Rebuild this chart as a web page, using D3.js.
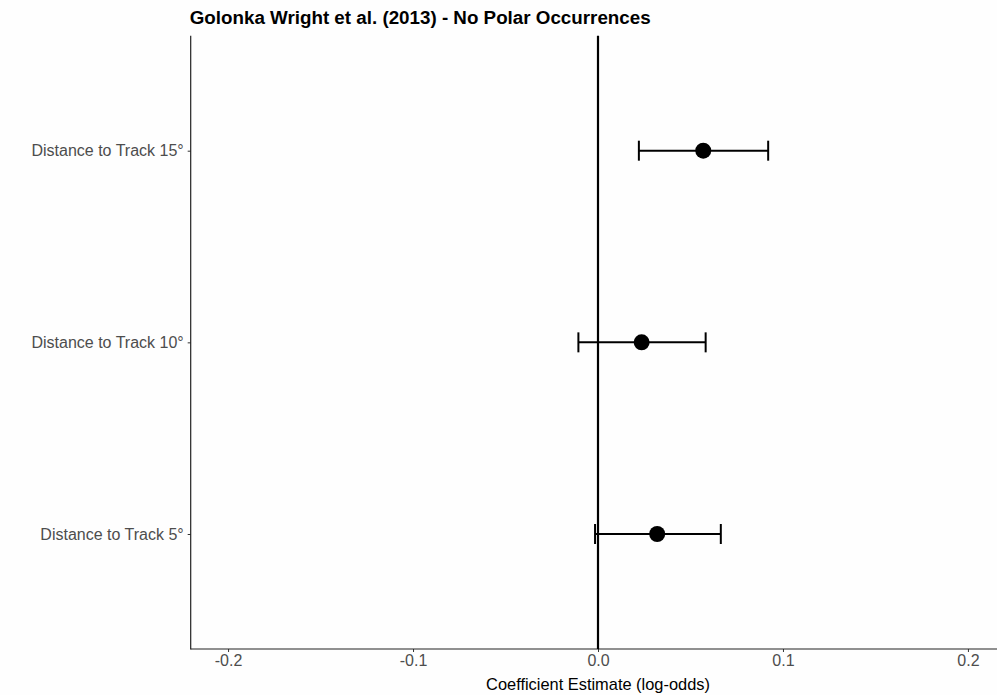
<!DOCTYPE html>
<html>
<head>
<meta charset="utf-8">
<script src="https://cdn.jsdelivr.net/npm/d3@7"></script>
<style>
  html, body { margin: 0; padding: 0; background: #fefefe; }
  svg { display: block; }
  text { font-family: "Liberation Sans", Arial, Helvetica, sans-serif; }
</style>
</head>
<body>
<svg id="chart" width="997" height="695"></svg>
<script>
// Model terms, point estimates and 95% confidence bounds (log-odds)
const terms = ["Distance to Track 15°", "Distance to Track 10°", "Distance to Track 5°"];
const estimates = [0.0569, 0.0236, 0.0320];
const lower = [0.0221, -0.0106, -0.0016];
const upper = [0.0920, 0.0582, 0.0664];
const xTicks = [-0.2, -0.1, 0.0, 0.1, 0.2];
const titleText = "Golonka Wright et al. (2013) - No Polar Occurrences";
const xTitle = "Coefficient Estimate (log-odds)";

const svg = d3.select("#chart");
const plot = { left: 190.7, right: 1005.3, top: 35.7, bottom: 649 };

const x = d3.scaleLinear().domain([-0.2202, 0.2202]).range([plot.left, plot.right]);

// discrete axis with 0.6 unit expansion on each end
const y = d3.scalePoint().domain(terms).range([plot.top, plot.bottom]).padding(0.6);

const rows = terms.map((t, i) => ({ term: t, est: estimates[i], lo: lower[i], hi: upper[i] }));

// tick labels with a plain hyphen for negatives
const fmt = v => d3.format(".1f")(v).replace("\u2212", "-");

// x axis
const xAxis = svg.append("g")
  .attr("transform", `translate(0,${plot.bottom})`)
  .call(d3.axisBottom(x).tickValues(xTicks).tickFormat(fmt).tickSize(3).tickPadding(3));
xAxis.select(".domain").remove();
xAxis.selectAll(".tick line").attr("stroke", "#333").attr("stroke-width", 1);
xAxis.selectAll(".tick text").attr("fill", "#4d4d4d").style("font-size", "16px");

// y axis
const yAxis = svg.append("g")
  .attr("transform", `translate(${plot.left},0)`)
  .call(d3.axisLeft(y).tickSize(3).tickPadding(4));
yAxis.select(".domain").remove();
yAxis.selectAll(".tick line").attr("stroke", "#333").attr("stroke-width", 1);
yAxis.selectAll(".tick text").attr("fill", "#4d4d4d").style("font-size", "16px");

// axis lines (left and bottom only)
svg.append("line")
  .attr("x1", plot.left).attr("x2", plot.left)
  .attr("y1", plot.top).attr("y2", plot.bottom + 0.5)
  .attr("stroke", "#222").attr("stroke-width", 1.2);
svg.append("line")
  .attr("x1", plot.left).attr("x2", plot.right)
  .attr("y1", plot.bottom).attr("y2", plot.bottom)
  .attr("stroke", "#222").attr("stroke-width", 1.2);

// reference line at zero
svg.append("line")
  .attr("x1", x(0)).attr("x2", x(0))
  .attr("y1", plot.top).attr("y2", plot.bottom)
  .attr("stroke", "#000").attr("stroke-width", 2.2);

// confidence intervals and point estimates
const cap = 10;
const g = svg.append("g");
rows.forEach(r => {
  const cy = y(r.term);
  g.append("line")
    .attr("x1", x(r.lo)).attr("x2", x(r.hi)).attr("y1", cy).attr("y2", cy)
    .attr("stroke", "#000").attr("stroke-width", 2);
  [r.lo, r.hi].forEach(v => {
    g.append("line")
      .attr("x1", x(v)).attr("x2", x(v)).attr("y1", cy - cap).attr("y2", cy + cap)
      .attr("stroke", "#000").attr("stroke-width", 2);
  });
  g.append("circle")
    .attr("cx", x(r.est)).attr("cy", cy).attr("r", 8)
    .attr("fill", "#000");
});

// titles
svg.append("text")
  .attr("x", plot.left - 1).attr("y", 24)
  .style("font-size", "18.8px").style("font-weight", "bold")
  .attr("fill", "#000")
  .text(titleText);

svg.append("text")
  .attr("x", x(0)).attr("y", 690)
  .attr("text-anchor", "middle")
  .style("font-size", "16.4px")
  .attr("fill", "#000")
  .text(xTitle);
</script>
</body>
</html>
